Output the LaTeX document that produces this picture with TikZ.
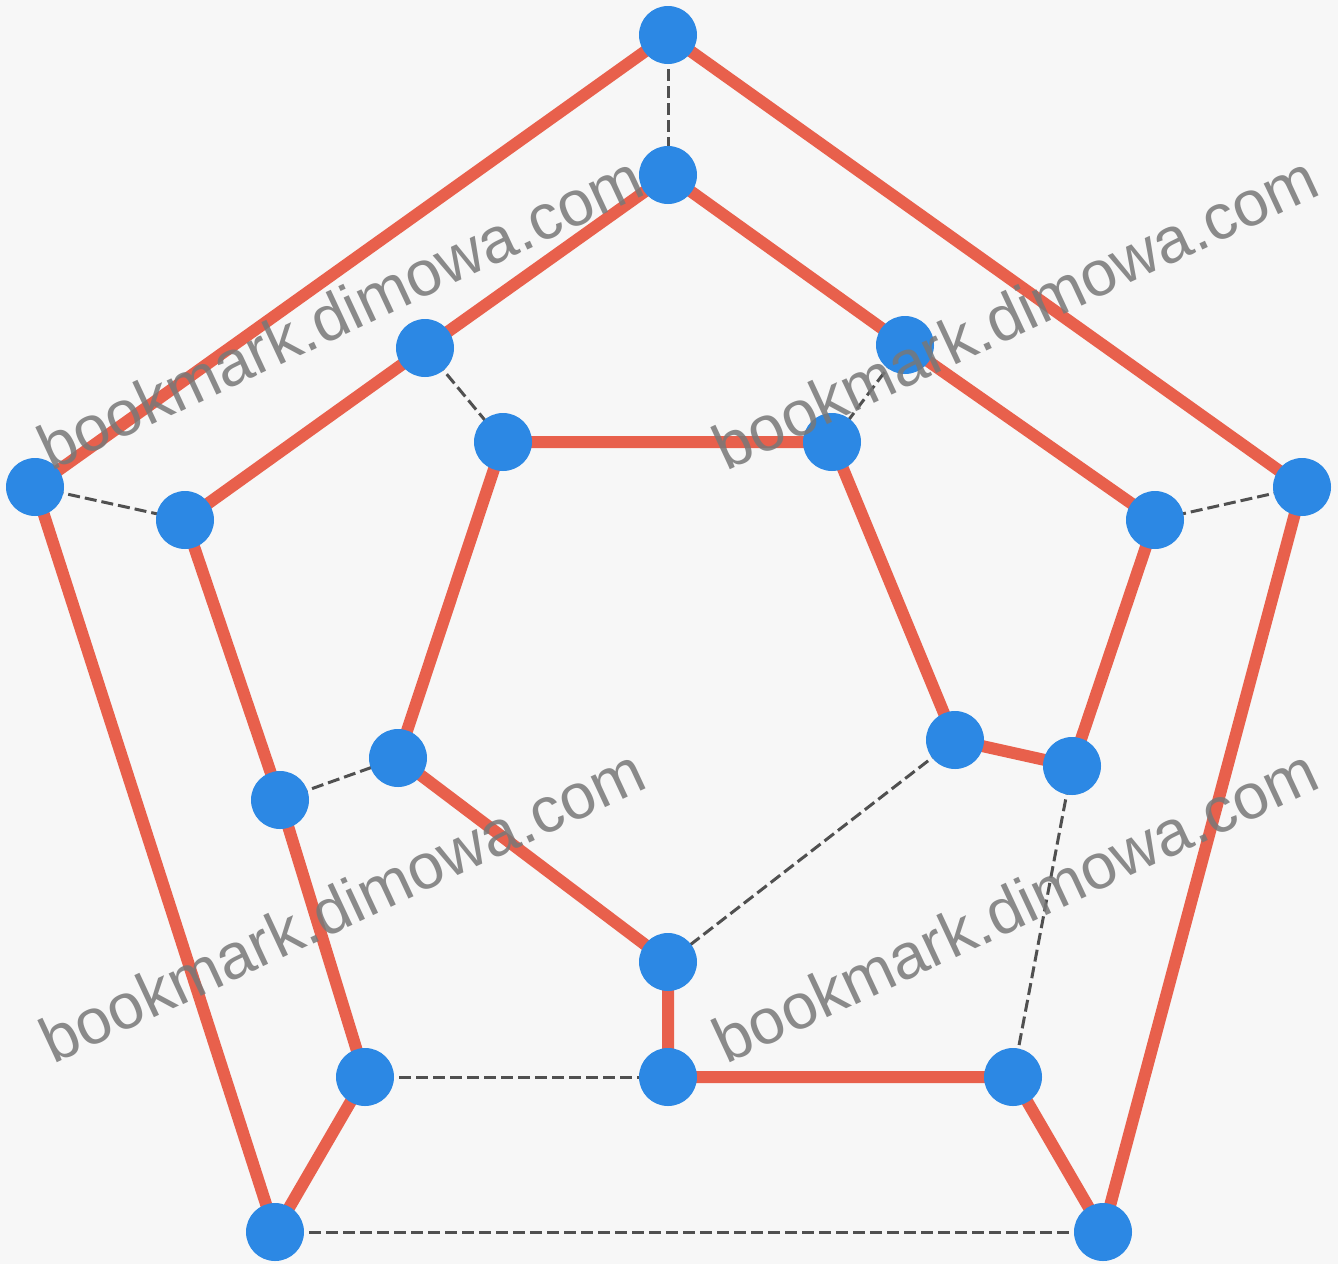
\documentclass[tikz,border=0pt]{standalone}
\usepackage{fontspec}
\setmainfont{Liberation Sans}
\definecolor{bg}{RGB}{247,247,247}
\definecolor{hamred}{RGB}{232,96,76}
\definecolor{nodeblue}{RGB}{44,136,228}
\definecolor{dashgray}{RGB}{80,80,80}
\definecolor{wmgray}{RGB}{120,120,120}
\begin{document}
\begin{tikzpicture}[x=1pt,y=-1pt,
  vert/.style={circle,fill=nodeblue,minimum size=58pt,inner sep=0pt},
  ham/.style={draw=hamred,line width=12pt},
  other/.style={draw=dashgray,line width=3pt,dash pattern=on 12pt off 5pt},
  wm/.style={text=wmgray,font=\fontsize{64}{64}\selectfont,rotate=25,opacity=0.85}]
\fill[bg] (0,0) rectangle (1338,1264);
\useasboundingbox (0,0) rectangle (1338,1264);
% outer pentagon
\coordinate (pa) at (668,35);
\coordinate (pb) at (35,487);
\coordinate (pc) at (1302,487);
\coordinate (pd) at (275,1232);
\coordinate (pe) at (1103,1232);
% middle ring
\coordinate (pf) at (668,175);
\coordinate (pg) at (425,348);
\coordinate (ph) at (905,345);
\coordinate (pi) at (185,520);
\coordinate (pj) at (1155,520);
\coordinate (pk) at (280,800);
\coordinate (pl) at (1072,766);
\coordinate (pm) at (365,1077);
\coordinate (pn) at (1013,1077);
\coordinate (po) at (668,1077);
% inner pentagon
\coordinate (pp) at (503,442);
\coordinate (pq) at (832,442);
\coordinate (pr) at (398,758);
\coordinate (ps) at (955,740);
\coordinate (pt) at (668,962);
% Hamiltonian cycle
\draw[ham,line join=round] (pa) -- (pb) -- (pd) -- (pm) -- (pk) -- (pi) -- (pg) -- (pf) -- (ph) -- (pj) -- (pl) -- (ps) -- (pq) -- (pp) -- (pr) -- (pt) -- (po) -- (pn) -- (pe) -- (pc) -- cycle;
% remaining edges
\draw[other] (pd) -- (pe);
\draw[other] (pa) -- (pf);
\draw[other] (pb) -- (pi);
\draw[other] (pc) -- (pj);
\draw[other] (pl) -- (pn);
\draw[other] (pm) -- (po);
\draw[other] (pg) -- (pp);
\draw[other] (ph) -- (pq);
\draw[other] (pk) -- (pr);
\draw[other] (ps) -- (pt);
% vertices
\foreach \v in {a,b,c,d,e,f,g,h,i,j,k,l,m,n,o,p,q,r,s,t}
  \node[vert] (\v) at (p\v) {};
% watermarks
\node[wm] (w1) at (340,312) {bookmark.dimowa.com};
\node[wm] (w2) at (1015,312) {bookmark.dimowa.com};
\node[wm] (w3) at (342,905) {bookmark.dimowa.com};
\node[wm] (w4) at (1015,905) {bookmark.dimowa.com};
\end{tikzpicture}
\end{document}
